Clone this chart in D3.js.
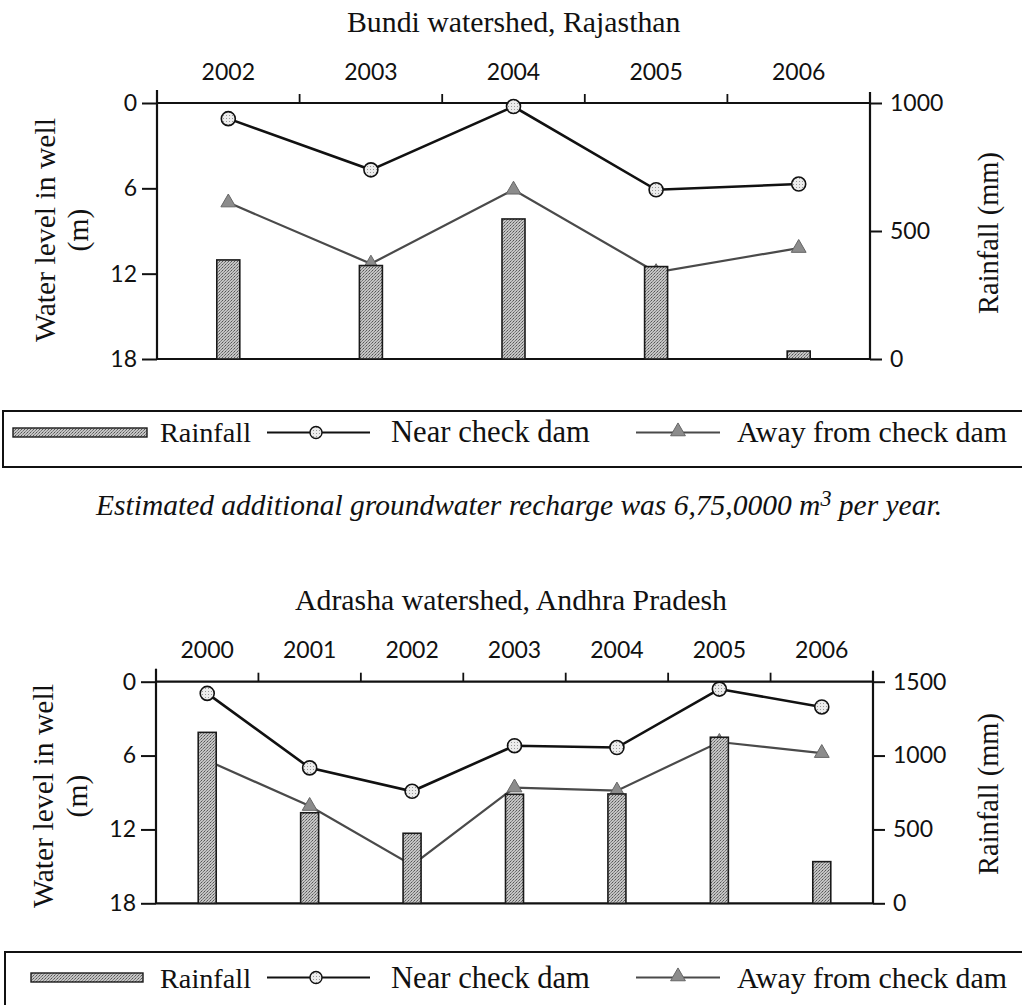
<!DOCTYPE html>
<html>
<head>
<meta charset="utf-8">
<script src="https://cdn.jsdelivr.net/npm/d3@7"></script>
<style>
  html, body { margin: 0; padding: 0; background: #fff; }
  svg { display: block; }
</style>
</head>
<body>
<script>
// ---------------- DATA ----------------
const waterTicks = [0, 6, 12, 18];

const bundiYears = ["2002", "2003", "2004", "2005", "2006"];
const bundiRainfall = [387, 365, 547, 361, 31];
const bundiNear = [1.1, 4.7, 0.25, 6.1, 5.7];
const bundiAway = [7.0, 11.3, 6.1, 11.9, 10.2];
const bundiRainTicks = [0, 500, 1000];

const adrashaYears = ["2000", "2001", "2002", "2003", "2004", "2005", "2006"];
const adrashaRainfall = [1157, 613, 474, 738, 740, 1124, 282];
const adrashaNear = [0.95, 7.0, 8.9, 5.2, 5.35, 0.6, 2.05];
const adrashaAway = [6.4, 10.1, 14.9, 8.6, 8.85, 4.9, 5.8];
const adrashaRainTicks = [0, 500, 1000, 1500];

const legendLabels = ["Rainfall", "Near check dam", "Away from check dam"];
const yLeftTitle = ["Water level in well", "(m)"];
const yRightTitle = "Rainfall (mm)";
const bundiTitle = "Bundi watershed, Rajasthan";
const adrashaTitle = "Adrasha watershed, Andhra Pradesh";
const captionMain = "Estimated additional groundwater recharge was 6,75,0000 m";
const captionSup = "3";
const captionEnd = " per year.";

// ---------------- SETUP ----------------
const SERIF = "'Liberation Serif', 'DejaVu Serif', serif";
const SANS = "Lato, 'Open Sans', sans-serif";

const svg = d3.select("body").append("svg")
  .attr("width", 1022).attr("height", 1005)
  .attr("viewBox", "0 0 1022 1005");

const defs = svg.append("defs");
// stipple pattern for bars
const pat = defs.append("pattern").attr("id", "stipple")
  .attr("width", 3).attr("height", 3).attr("patternUnits", "userSpaceOnUse");
pat.append("rect").attr("width", 3).attr("height", 3).attr("fill", "#c4c4c4");
pat.append("rect").attr("x", 0).attr("y", 0).attr("width", 1).attr("height", 1).attr("fill", "#555");
pat.append("rect").attr("x", 2).attr("y", 1).attr("width", 1).attr("height", 1).attr("fill", "#777");
pat.append("rect").attr("x", 1).attr("y", 2).attr("width", 1).attr("height", 1).attr("fill", "#888");
// light pattern for circles
const pat2 = defs.append("pattern").attr("id", "dotfill")
  .attr("width", 3).attr("height", 3).attr("patternUnits", "userSpaceOnUse");
pat2.append("rect").attr("width", 3).attr("height", 3).attr("fill", "#ececec");
pat2.append("rect").attr("x", 1).attr("y", 1).attr("width", 1).attr("height", 1).attr("fill", "#999");

function fitWidth(sel, target) {
  const node = sel.node();
  const fs = parseFloat(sel.attr("font-size"));
  const len = node.getComputedTextLength();
  if (len > 0) sel.attr("font-size", (fs * target / len).toFixed(2));
}

const triangle = d3.symbol().type(d3.symbolTriangle).size(95);

function drawChart(cfg) {
  const g = svg.append("g");
  const { years, rainfall, near, away, rainTicks, rainMax } = cfg;
  const x = d3.scaleBand().domain(years).range([cfg.left, cfg.right]).padding(0);
  const cx = d => x(d) + x.bandwidth() / 2;
  const yW = d3.scaleLinear().domain([0, 18]).range([cfg.top, cfg.bottom]);
  const yR = d3.scaleLinear().domain([0, rainMax]).range([cfg.bottom, cfg.top]);

  // title
  const t = g.append("text")
    .attr("x", cfg.titleX).attr("y", cfg.titleY)
    .attr("font-family", SERIF).attr("font-size", cfg.titleSize)
    .attr("fill", "#111")
    .text(cfg.title);

  // year labels
  g.append("g").selectAll("text").data(years).join("text")
    .attr("x", d => cx(d)).attr("y", cfg.yearY)
    .attr("text-anchor", "middle")
    .attr("font-family", SANS).attr("font-size", 23).attr("fill", "#111")
    .text(d => d);

  // left axis
  const la = g.append("g").attr("transform", `translate(${cfg.left},0)`)
    .call(d3.axisLeft(yW).tickValues(waterTicks).tickFormat(d3.format("d")).tickSize(15).tickPadding(5));
  la.select(".domain").remove();
  la.selectAll("line").attr("stroke", "#111").attr("stroke-width", 2);
  la.selectAll("text").attr("font-family", SANS).attr("font-size", 23).attr("fill", "#111");

  // right axis
  const ra = g.append("g").attr("transform", `translate(${cfg.right},0)`)
    .call(d3.axisRight(yR).tickValues(rainTicks).tickFormat(d3.format("d")).tickSize(12).tickPadding(8));
  ra.select(".domain").remove();
  ra.selectAll("line").attr("stroke", "#111").attr("stroke-width", 2);
  ra.selectAll("text").attr("font-family", SANS).attr("font-size", 23).attr("fill", "#111");

  // frame lines
  const frame = g.append("g").attr("stroke", "#111").attr("stroke-width", 2.2);
  frame.append("line").attr("x1", cfg.left).attr("x2", cfg.left)
    .attr("y1", yW(0) - 13).attr("y2", yW(18));
  frame.append("line").attr("x1", cfg.right).attr("x2", cfg.right)
    .attr("y1", yW(0) - 11).attr("y2", yW(18));
  frame.append("line").attr("x1", cfg.left).attr("x2", cfg.right)
    .attr("y1", yW(0)).attr("y2", yW(0));
  frame.append("line").attr("x1", cfg.left).attr("x2", cfg.right)
    .attr("y1", yW(18)).attr("y2", yW(18));
  // top ticks at year boundaries
  frame.selectAll(".bt").data(years.slice(1)).join("line")
    .attr("x1", d => x(d)).attr("x2", d => x(d))
    .attr("y1", yW(0)).attr("y2", yW(0) - 9)
    .attr("stroke-width", 1.8);

  // away series (behind bars)
  const line = d3.line().x(d => cx(d[0])).y(d => yW(d[1]));
  g.append("path").datum(years.map((d, i) => [d, away[i]]))
    .attr("d", line).attr("fill", "none")
    .attr("stroke", "#4a4a4a").attr("stroke-width", 2.2);
  g.append("g").selectAll("path").data(years.map((d, i) => [d, away[i]])).join("path")
    .attr("d", triangle)
    .attr("transform", d => `translate(${cx(d[0])},${yW(d[1])})`)
    .attr("fill", "#8c8c8c").attr("stroke", "#666").attr("stroke-width", 1);

  // bars
  g.append("g").selectAll("rect").data(years.map((d, i) => [d, rainfall[i]])).join("rect")
    .attr("x", d => cx(d[0]) - cfg.barW / 2)
    .attr("y", d => yR(d[1]))
    .attr("width", cfg.barW)
    .attr("height", d => yR(0) - yR(d[1]))
    .attr("fill", "url(#stipple)")
    .attr("stroke", "#1a1a1a").attr("stroke-width", 1.6);

  // near series
  g.append("path").datum(years.map((d, i) => [d, near[i]]))
    .attr("d", line).attr("fill", "none")
    .attr("stroke", "#111").attr("stroke-width", 2.6);
  g.append("g").selectAll("circle").data(years.map((d, i) => [d, near[i]])).join("circle")
    .attr("cx", d => cx(d[0])).attr("cy", d => yW(d[1])).attr("r", 7)
    .attr("fill", "url(#dotfill)").attr("stroke", "#111").attr("stroke-width", 1.6);

  // left axis title
  const lt1 = g.append("text")
    .attr("transform", `translate(${cfg.lt1X},${cfg.ltY}) rotate(-90)`)
    .attr("text-anchor", "middle").attr("font-family", SERIF).attr("font-size", 24)
    .attr("fill", "#111").text(yLeftTitle[0]);
  fitWidth(lt1, 224);
  g.append("text")
    .attr("transform", `translate(${cfg.lt2X},${cfg.ltY}) rotate(-90)`)
    .attr("text-anchor", "middle").attr("font-family", SERIF).attr("font-size", lt1.attr("font-size"))
    .attr("fill", "#111").text(yLeftTitle[1]);

  // right axis title
  const rt = g.append("text")
    .attr("transform", `translate(${cfg.rtX},${cfg.rtY}) rotate(-90)`)
    .attr("text-anchor", "middle").attr("font-family", SERIF).attr("font-size", 24)
    .attr("fill", "#111").text(yRightTitle);
  fitWidth(rt, 162);

  return t;
}

function drawLegend(cfg) {
  const g = svg.append("g");
  g.append("path")
    .attr("d", `M${cfg.frameX1},${cfg.frameY0} L${cfg.frameX0},${cfg.frameY0} L${cfg.frameX0},${cfg.frameY1} L${cfg.frameX1},${cfg.frameY1}`)
    .attr("fill", "none").attr("stroke", "#111").attr("stroke-width", 2);
  // rainfall swatch
  g.append("rect").attr("x", cfg.swX0).attr("y", cfg.swY)
    .attr("width", cfg.swX1 - cfg.swX0).attr("height", 9)
    .attr("fill", "url(#stipple)").attr("stroke", "#1a1a1a").attr("stroke-width", 1.4);
  const my = cfg.swY + 4.5;
  // near
  g.append("line").attr("x1", 267).attr("x2", 370).attr("y1", my).attr("y2", my)
    .attr("stroke", "#111").attr("stroke-width", 2);
  g.append("circle").attr("cx", 316).attr("cy", my).attr("r", 6)
    .attr("fill", "url(#dotfill)").attr("stroke", "#111").attr("stroke-width", 1.4);
  // away
  g.append("line").attr("x1", 636).attr("x2", 720).attr("y1", my).attr("y2", my)
    .attr("stroke", "#4a4a4a").attr("stroke-width", 2);
  g.append("path").attr("d", triangle)
    .attr("transform", `translate(678,${my - 1})`)
    .attr("fill", "#8c8c8c").attr("stroke", "#666").attr("stroke-width", 1);
  const starts = [160, 391, 737];
  const widths = [91, 199, 270];
  legendLabels.forEach((lab, i) => {
    const t = g.append("text").attr("x", starts[i]).attr("y", cfg.baseline)
      .attr("font-family", SERIF).attr("font-size", 24).attr("fill", "#111").text(lab);
    fitWidth(t, widths[i]);
  });
}

// ---------------- CHARTS ----------------
const t1 = drawChart({
  years: bundiYears, rainfall: bundiRainfall, near: bundiNear, away: bundiAway,
  rainTicks: bundiRainTicks, rainMax: 1000,
  left: 157, right: 870, top: 103, bottom: 359,
  title: bundiTitle, titleX: 347, titleY: 32, titleSize: 24,
  yearY: 80, barW: 23,
  lt1X: 55, lt2X: 88, ltY: 230, rtX: 998, rtY: 233
});
// size title so "Bundi watersh" spans ~173px
{
  const fs = parseFloat(t1.attr("font-size"));
  const sub = t1.node().getSubStringLength(0, 13);
  t1.attr("font-size", (fs * 173 / sub).toFixed(2));
}

const t2 = drawChart({
  years: adrashaYears, rainfall: adrashaRainfall, near: adrashaNear, away: adrashaAway,
  rainTicks: adrashaRainTicks, rainMax: 1500,
  left: 156, right: 873, top: 681.7, bottom: 903.3,
  title: adrashaTitle, titleX: 295, titleY: 610, titleSize: t1.attr("font-size"),
  yearY: 658, barW: 18,
  lt1X: 53, lt2X: 87, ltY: 796, rtX: 998, rtY: 794
});

drawLegend({ frameX0: 3, frameX1: 1030, frameY0: 411, frameY1: 467,
  swX0: 13, swX1: 147, swY: 428, baseline: 442 });
drawLegend({ frameX0: 5, frameX1: 1030, frameY0: 952, frameY1: 1012,
  swX0: 31, swX1: 143, swY: 973, baseline: 988 });

// caption
const cap = svg.append("text").attr("x", 96).attr("y", 515)
  .attr("font-family", SERIF).attr("font-style", "italic").attr("font-size", 24)
  .attr("fill", "#111");
cap.append("tspan").text(captionMain);
cap.append("tspan").attr("dy", -9).attr("font-size", "0.75em").text(captionSup);
cap.append("tspan").attr("dy", 9).text(captionEnd);
fitWidth(cap, 846);
</script>
</body>
</html>
